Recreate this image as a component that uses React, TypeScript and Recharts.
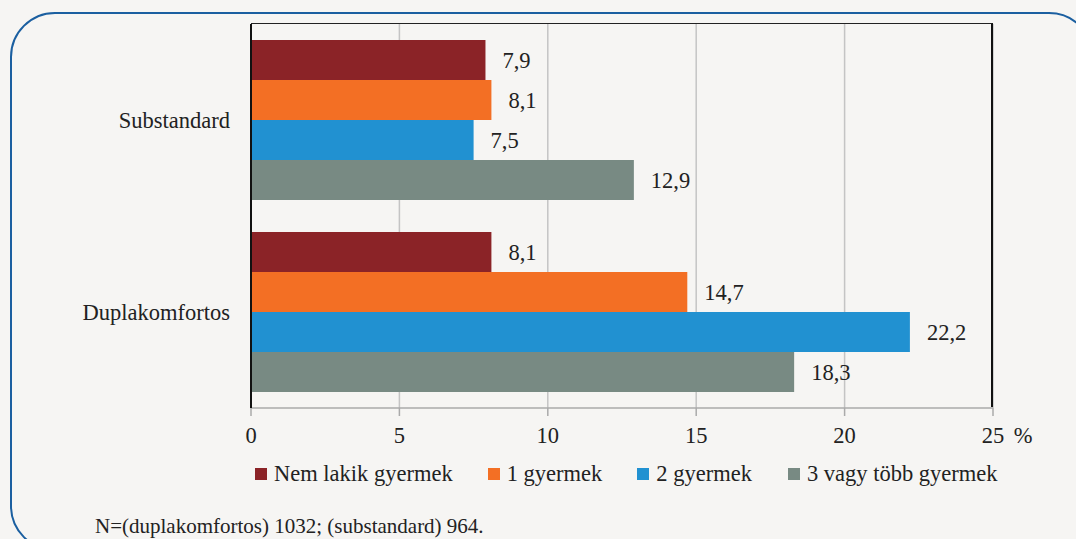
import React from "react";
import {
  BarChart,
  Bar,
  XAxis,
  YAxis,
  CartesianGrid,
  LabelList,
} from "recharts";

const categories = ["Substandard", "Duplakomfortos"];
const nemLakik = [7.9, 8.1];
const egyGyermek = [8.1, 14.7];
const kettoGyermek = [7.5, 22.2];
const haromTobb = [12.9, 18.3];
const xTicks = [0, 5, 10, 15, 20, 25];

const series = [
  { key: "nem", name: "Nem lakik gyermek", color: "#8b2327", values: nemLakik },
  { key: "egy", name: "1 gyermek", color: "#f36f24", values: egyGyermek },
  { key: "ketto", name: "2 gyermek", color: "#2191d1", values: kettoGyermek },
  { key: "harom", name: "3 vagy több gyermek", color: "#788a83", values: haromTobb },
];

const data = categories.map((name, i) => {
  const row: any = { name };
  series.forEach((s) => (row[s.key] = s.values[i]));
  return row;
});

const FONT = "'Liberation Serif', 'DejaVu Serif', serif";
const FS = 22.5;
const fmt = (v: any) => String(v).replace(".", ",");

// chart geometry
const W = 1076;
const H = 539;
const M = { top: 24, right: 83, bottom: 101, left: 0 };
const Y_W = 251;
const X_H = 30;

const XTick = (props: any) => {
  const { x, y, payload } = props;
  return (
    <g>
      <text x={x} y={y} dy="0.71em" textAnchor="middle" fontSize={FS} fontFamily={FONT} fill="#222">
        {payload.value}
      </text>
      {payload.value === 25 && (
        <text x={x + 30} y={y} dy="0.71em" textAnchor="middle" fontSize={FS} fontFamily={FONT} fill="#222">
          %
        </text>
      )}
    </g>
  );
};

const YTick = (props: any) => {
  const { x, y, payload } = props;
  return (
    <text x={x} y={y} dy="0.35em" textAnchor="end" fontSize={FS} fontFamily={FONT} fill="#222">
      {payload.value}
    </text>
  );
};

export default function App() {
  return (
    <div
      style={{
        position: "absolute",
        left: 0,
        top: 0,
        width: W,
        height: H,
        background: "#f6f5f3",
        overflow: "hidden",
        fontFamily: FONT,
      }}
    >
      <div
        style={{
          position: "absolute",
          left: 10,
          top: 12,
          width: 1080,
          height: 535,
          border: "2px solid #1b5fa0",
          borderRadius: 45,
        }}
      />
      <BarChart
        width={W}
        height={H}
        data={data}
        layout="vertical"
        margin={M}
        barCategoryGap={16}
        barGap={0}
        style={{ position: "absolute", left: 0, top: 0 }}
      >
        <CartesianGrid horizontal={false} stroke="#c4c4c4" strokeWidth={1.5} />
        <XAxis
          type="number"
          domain={[0, 25]}
          ticks={xTicks}
          height={X_H}
          tickSize={8}
          tickMargin={11}
          tick={<XTick />}
          tickLine={{ stroke: "#aaa", strokeWidth: 1.5 }}
          axisLine={{ stroke: "#aaa", strokeWidth: 1.5 }}
        />
        <YAxis
          type="category"
          dataKey="name"
          width={Y_W}
          tickSize={0}
          tickMargin={21}
          tickLine={false}
          tick={<YTick />}
          axisLine={{ stroke: "#111", strokeWidth: 2 }}
        />
        {series.map((s) => (
          <Bar key={s.key} dataKey={s.key} name={s.name} fill={s.color} isAnimationActive={false}>
            <LabelList
              dataKey={s.key}
              position="right"
              offset={17}
              formatter={fmt}
              fontSize={FS}
              fontFamily={FONT}
              fill="#222"
            />
          </Bar>
        ))}
      </BarChart>
      {/* plot frame: top and right edges */}
      <div
        style={{
          position: "absolute",
          left: M.left + Y_W,
          top: M.top - 1,
          width: W - M.left - Y_W - M.right,
          height: H - M.top - M.bottom - X_H,
          borderTop: "1.5px solid #222",
          borderRight: "2px solid #111",
          boxSizing: "border-box",
          pointerEvents: "none",
        }}
      />
      <div
        style={{
          position: "absolute",
          left: 255,
          top: 461,
          display: "flex",
          alignItems: "center",
          fontSize: FS,
          color: "#222",
        }}
      >
        {series.map((s, i) => (
          <div key={s.key} style={{ display: "flex", alignItems: "center", marginRight: [35, 35, 36, 0][i] }}>
            <span style={{ display: "inline-block", width: 12, height: 12, background: s.color, marginRight: 7 }} />
            <span>{s.name}</span>
          </div>
        ))}
      </div>
      <div
        style={{
          position: "absolute",
          left: 95,
          top: 514,
          fontSize: 21,
          color: "#222",
        }}
      >
        N=(duplakomfortos) 1032; (substandard) 964.
      </div>
    </div>
  );
}
